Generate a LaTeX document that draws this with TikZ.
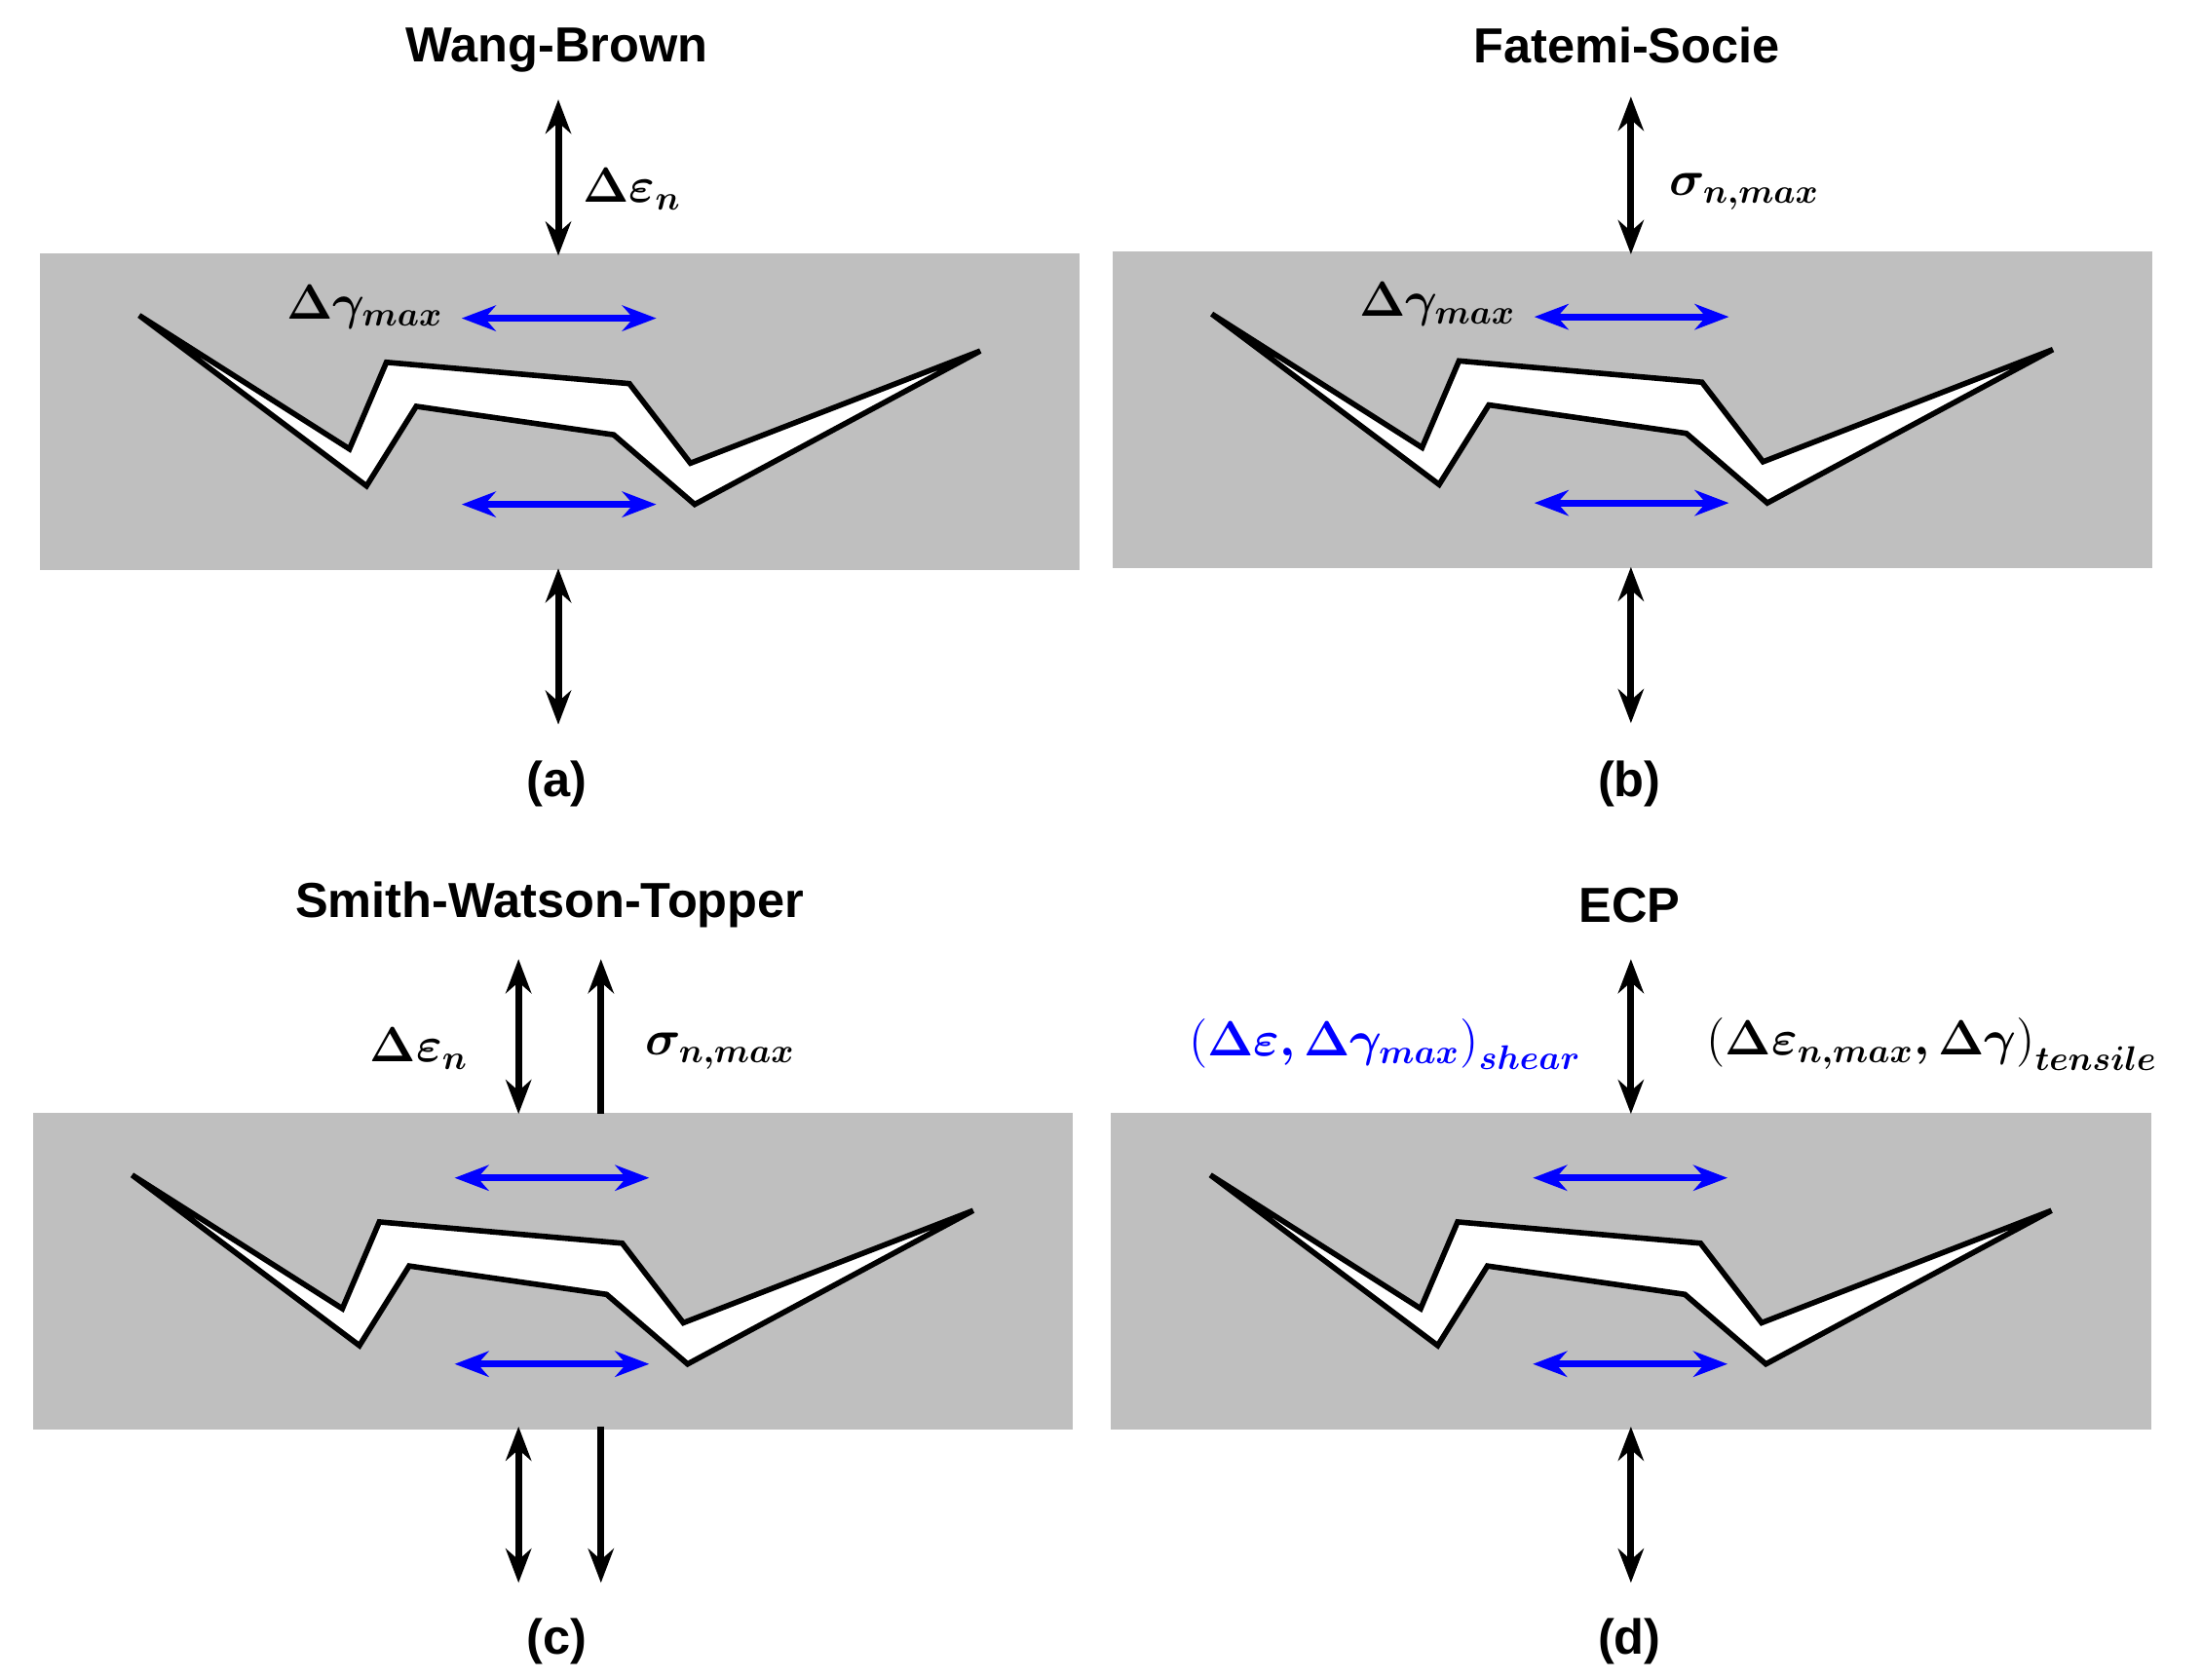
\documentclass[tikz,border=0pt]{standalone}
\usepackage{fontspec}
\setmainfont{Liberation Sans}
\usepackage{amsmath,bm}
\usetikzlibrary{arrows.meta, positioning}

\begin{document}
\begin{tikzpicture}[x=0.0146cm, y=-0.0146cm,
    plate/.style={fill=black!25, draw=none},
    crack/.style={fill=white, draw=black, line width=1.6pt, line join=miter},
    load/.style={{Stealth[length=3.5mm]}-{Stealth[length=3.5mm]}, line width=2pt},
    shear/.style={{Stealth[length=3.5mm]}-{Stealth[length=3.5mm]}, line width=2pt, blue},
    title/.style={font=\bfseries\Large},
    lbl/.style={font=\Large}
  ]
    \useasboundingbox (0,0) rectangle (1550,1182);

    % one specimen with a crack, shifted to its place
    \newcommand{\specimen}[3]{%
      \begin{scope}[shift={(#1,#2)}]
        \fill[plate] (28,178) rectangle (760,401);
        \draw[crack] (98,222) -- (258,342) -- (293,286) -- (432,306) -- (489,355) -- (690,247)
          -- (486,326) -- (443,270) -- (272,255) -- (246,316) -- cycle;
        \coordinate (#3-sl) at (325,224); \coordinate (#3-sr) at (462,224);
        \coordinate (#3-bl) at (325,355); \coordinate (#3-br) at (462,355);
        \draw[shear] (#3-sl) -- (#3-sr);
        \draw[shear] (#3-bl) -- (#3-br);
      \end{scope}}

    % (a) Wang-Brown
    \specimen{0}{0}{a}
    \node[title] (ta) at (392,35) {Wang-Brown};
    \coordinate (a-t1) at (393,70); \coordinate (a-t2) at (393,180);
    \coordinate (a-b1) at (393,400); \coordinate (a-b2) at (393,510);
    \draw[load] (a-t1) -- (a-t2);
    \draw[load] (a-b1) -- (a-b2);
    \node[lbl] (ea) at (445,133) {$\bm{\Delta\varepsilon_n}$};
    \node[lbl] (ga) at (257,216) {$\bm{\Delta\gamma_{max}}$};
    \node[title] (la) at (392,552) {(a)};

    % (b) Fatemi-Socie
    \specimen{755}{-1}{b}
    \node[title] (tb) at (1145,32) {Fatemi-Socie};
    \coordinate (b-t1) at (1148,68); \coordinate (b-t2) at (1148,179);
    \coordinate (b-b1) at (1148,399); \coordinate (b-b2) at (1148,509);
    \draw[load] (b-t1) -- (b-t2);
    \draw[load] (b-b1) -- (b-b2);
    \node[lbl] (sb) at (1228,135) {$\bm{\sigma_{n,max}}$};
    \node[lbl] (gb) at (1012,214) {$\bm{\Delta\gamma_{max}}$};
    \node[title] (lb) at (1147,552) {(b)};

    % (c) Smith-Watson-Topper
    \specimen{-5}{605}{c}
    \node[title] (tc) at (387,637) {Smith-Watson-Topper};
    \coordinate (c-t1) at (365,675); \coordinate (c-t2) at (365,784);
    \coordinate (c-u1) at (423,675); \coordinate (c-u2) at (423,784);
    \coordinate (c-b1) at (365,1004); \coordinate (c-b2) at (365,1114);
    \coordinate (c-v1) at (423,1004); \coordinate (c-v2) at (423,1114);
    \draw[load] (c-t1) -- (c-t2);
    \draw[load, {Stealth[length=3.5mm]}-] (c-u1) -- (c-u2);
    \draw[load] (c-b1) -- (c-b2);
    \draw[load, -{Stealth[length=3.5mm]}] (c-v1) -- (c-v2);
    \node[lbl] (ec) at (295,738) {$\bm{\Delta\varepsilon_n}$};
    \node[lbl] (sc) at (507,740) {$\bm{\sigma_{n,max}}$};
    \node[title] (lc) at (392,1155) {(c)};

    % (d) ECP
    \specimen{754}{605}{d}
    \node[title] (td) at (1147,637) {ECP};
    \coordinate (d-t1) at (1148,675); \coordinate (d-t2) at (1148,784);
    \coordinate (d-b1) at (1148,1004); \coordinate (d-b2) at (1148,1114);
    \draw[load] (d-t1) -- (d-t2);
    \draw[load] (d-b1) -- (d-b2);
    \node[lbl, blue] (shd) at (975,735) {$\bm{\left(\Delta\varepsilon,\Delta\gamma_{max}\right)_{shear}}$};
    \node[lbl] (tnd) at (1360,735) {$\bm{\left(\Delta\varepsilon_{n,max},\Delta\gamma\right)_{tensile}}$};
    \node[title] (ld) at (1147,1155) {(d)};
  \end{tikzpicture}
\end{document}
